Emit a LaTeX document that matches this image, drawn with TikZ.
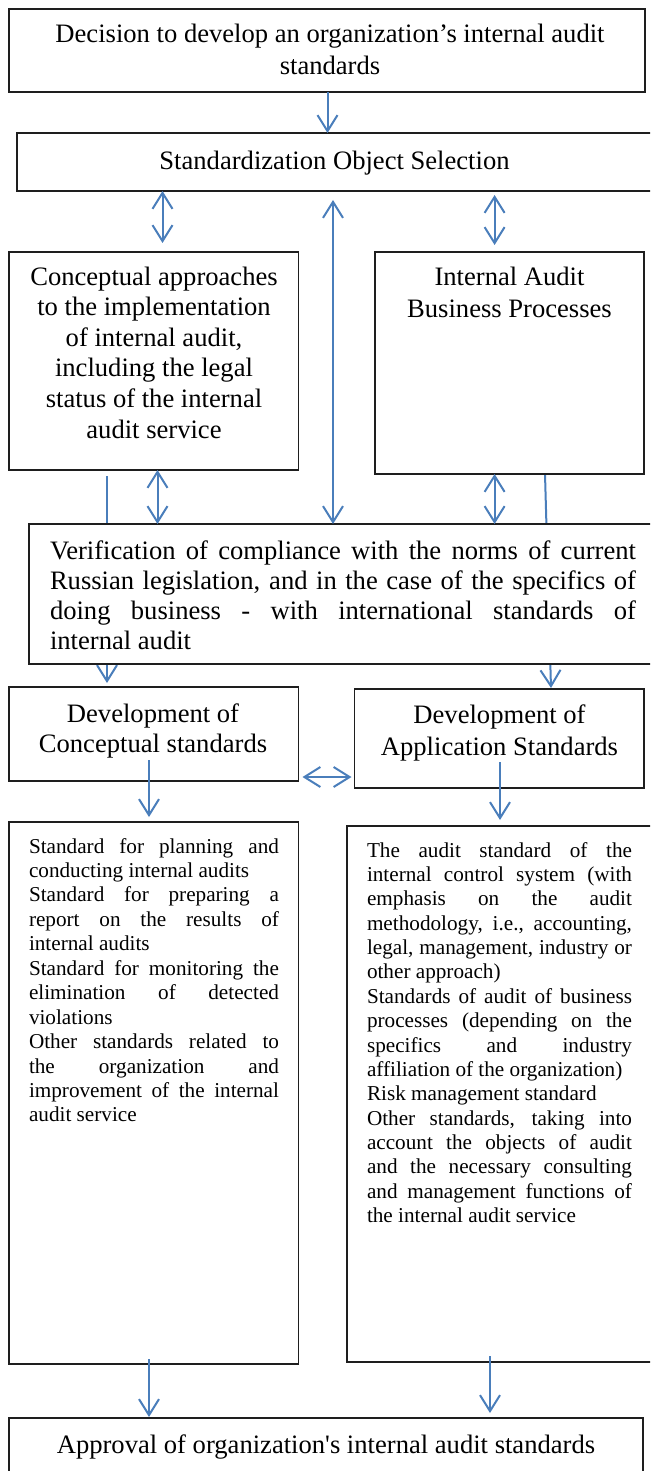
\documentclass[tikz,border=0pt]{standalone}
\usepackage{fontspec}
\setmainfont{Liberation Serif}[Ligatures=TeXOff]
\usetikzlibrary{arrows.meta,backgrounds}
\definecolor{arrowblue}{RGB}{74,126,187}
\definecolor{boxline}{RGB}{30,30,30}
\newcommand\jline[1]{\makebox[\linewidth][s]{#1}\par}
\newcommand\lline[1]{\mbox{#1}\par}
\tikzset{
  box/.style={draw=boxline, line width=1.4pt, fill=white, inner sep=0pt, outer sep=0pt, anchor=north west},
  txt/.style={inner sep=0pt, outer sep=0pt},
  tip/.tip={Straight Barb[length=16pt,width=20pt,line width=2pt]},
  arr/.style={draw=arrowblue, line width=2pt, -tip},
  darr/.style={draw=arrowblue, line width=2pt, tip-tip},
}
\begin{document}
\begin{tikzpicture}[x=1pt,y=-1pt]
\useasboundingbox (0,0) rectangle (650,1471);
\clip (0,0) rectangle (650,1471);
% boxes
\node[box, minimum width=636pt, minimum height=83pt] (b1) at (9,9) {};
\node[box, minimum width=643pt, minimum height=58pt] (sos) at (17,133) {};
\node[box, minimum width=289.5pt, minimum height=218pt] (conc) at (9,252) {};
\node[box, minimum width=269pt, minimum height=222pt] (iabp) at (375,252) {};
\node[box, minimum width=631pt, minimum height=140pt] (verif) at (29,524) {};
\node[box, minimum width=289.5pt, minimum height=94pt] (devc) at (9,687) {};
\node[box, minimum width=289.5pt, minimum height=99pt] (deva) at (354.5,689) {};
\node[box, minimum width=289.5pt, minimum height=542pt] (listl) at (9,822) {};
\node[box, minimum width=313pt, minimum height=536pt] (listr) at (347,826) {};
\node[box, minimum width=634pt, minimum height=80pt] (appr) at (9,1418) {};
% texts
\node[txt, anchor=base] (tb1) at (330,42.5) {\parbox[t]{620pt}{\centering\fontsize{26.6pt}{32pt}\selectfont Decision to develop an organization’s internal audit\\ standards}};
\node[txt, anchor=base] (tsos) at (334.5,170) {\fontsize{26.6pt}{32pt}\selectfont Standardization Object Selection};
\node[txt, anchor=base] (tconc) at (154,285) {\parbox[t]{285pt}{\centering\fontsize{26.6pt}{30.6pt}\selectfont Conceptual approaches\\ to the implementation\\ of internal audit,\\ including the legal\\ status of the internal\\ audit service}};
\node[txt, anchor=base] (tiabp) at (509.5,285) {\parbox[t]{265pt}{\centering\fontsize{26.6pt}{32pt}\selectfont Internal Audit\\ Business Processes}};
\node[txt, anchor=base west] (tverif) at (50,559) {\parbox[t]{586pt}{\fontsize{26.6pt}{30.3pt}\selectfont
\jline{Verification of compliance with the norms of current}
\jline{Russian legislation, and in the case of the specifics of}
\jline{doing business - with international standards of}
\lline{internal audit}}};
\node[txt, anchor=base] (tdevc) at (153,722) {\parbox[t]{285pt}{\centering\fontsize{26.6pt}{30pt}\selectfont Development of\\ Conceptual standards}};
\node[txt, anchor=base] (tdeva) at (499.5,723) {\parbox[t]{285pt}{\centering\fontsize{26.6pt}{32pt}\selectfont Development of\\ Application Standards}};
\node[txt, anchor=base west] (tlistl) at (29,853) {\parbox[t]{250pt}{\fontsize{21.2pt}{24.45pt}\selectfont
\jline{Standard for planning and}
\lline{conducting internal audits}
\jline{Standard for preparing a}
\jline{report on the results of}
\lline{internal audits}
\jline{Standard for monitoring the}
\jline{elimination of detected}
\lline{violations}
\jline{Other standards related to}
\jline{the organization and}
\jline{improvement of the internal}
\lline{audit service}}};
\node[txt, anchor=base west] (tlistr) at (367,857) {\parbox[t]{265pt}{\fontsize{21.2pt}{24.38pt}\selectfont
\jline{The audit standard of the}
\jline{internal control system (with}
\jline{emphasis on the audit}
\jline{methodology, i.e., accounting,}
\jline{legal, management, industry or}
\lline{other approach)}
\jline{Standards of audit of business}
\jline{processes (depending on the}
\jline{specifics and industry}
\lline{affiliation of the organization)}
\lline{Risk management standard}
\jline{Other standards, taking into}
\jline{account the objects of audit}
\jline{and the necessary consulting}
\jline{and management functions of}
\lline{the internal audit service}}};
\node[txt, anchor=base] (tappr) at (326,1453) {\fontsize{26.6pt}{32pt}\selectfont Approval of organization's internal audit standards};
% column coordinates
\coordinate (xA) at (327.5,0);
\coordinate (xB) at (162.5,0);
\coordinate (xC) at (333,0);
\coordinate (xD) at (494.6,0);
\coordinate (xE) at (157.5,0);
\coordinate (xF) at (107,0);
\coordinate (xG) at (545,0);
\coordinate (xH) at (551,0);
\coordinate (xJ) at (149,0);
\coordinate (xK) at (500,0);
\coordinate (xL) at (490,0);
\coordinate (yI) at (0,777);
% connectors
\draw[arr] (b1.south -| xA) -- (sos.north -| xA);
\draw[darr] (sos.south -| xB) -- ([yshift=9pt]conc.north -| xB);
\draw[darr] ([yshift=-9pt]sos.south -| xC) -- (verif.north -| xC);
\draw[darr] ([yshift=-4pt]sos.south -| xD) -- ([yshift=7pt]iabp.north -| xD);
\draw[darr] (conc.south -| xE) -- (verif.north -| xE);
\draw[darr] (iabp.south -| xD) -- (verif.north -| xD);
\begin{scope}[on background layer]
\draw[arr] ([yshift=-6pt]conc.south -| xF) -- ([yshift=4pt]devc.north -| xF);
\draw[arr] (iabp.south -| xG) -- ([yshift=1pt]deva.north -| xH);
\end{scope}
\draw[darr] ([xshift=4pt]devc.east |- yI) -- ([xshift=-3pt]deva.west |- yI);
\draw[arr] ([yshift=21pt]devc.south -| xJ) -- ([yshift=5pt]listl.north -| xJ);
\draw[arr] ([yshift=26pt]deva.south -| xK) -- ([yshift=6pt]listr.north -| xK);
\draw[arr] ([yshift=5pt]listl.south -| xJ) -- ([yshift=1pt]appr.north -| xJ);
\draw[arr] ([yshift=6pt]listr.south -| xL) -- ([yshift=5pt]appr.north -| xL);
\end{tikzpicture}
\end{document}
